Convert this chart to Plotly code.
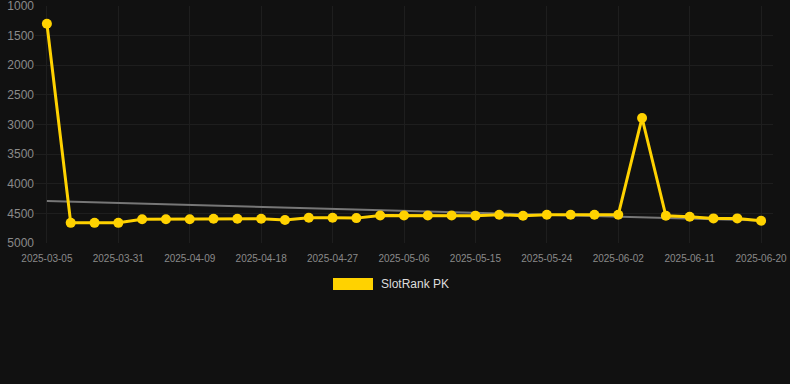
import plotly.graph_objects as go

dates = ["2025-03-05", "2025-03-25", "2025-03-28", "2025-03-31", "2025-04-03", "2025-04-06",
         "2025-04-09", "2025-04-12", "2025-04-15", "2025-04-18", "2025-04-21", "2025-04-24",
         "2025-04-27", "2025-04-30", "2025-05-03", "2025-05-06", "2025-05-09", "2025-05-12",
         "2025-05-15", "2025-05-18", "2025-05-21", "2025-05-24", "2025-05-27", "2025-05-30",
         "2025-06-02", "2025-06-05", "2025-06-08", "2025-06-11", "2025-06-14", "2025-06-17",
         "2025-06-20"]
ranks = [1300, 4660, 4660, 4660, 4600, 4600, 4600, 4590, 4590, 4590, 4613, 4575, 4575, 4580,
         4535, 4535, 4535, 4535, 4538, 4523, 4540, 4523, 4523, 4523, 4523, 2890, 4540, 4556,
         4585, 4585, 4625]
trend_ends = [4290, 4622]
tick_labels = dates[::3]
y_ticks = [1000, 1500, 2000, 2500, 3000, 3500, 4000, 4500, 5000]
series_name = "SlotRank PK"

YELLOW = "#FFD200"
BG = "#111111"
GRID = "#1e1e1e"
FONT = "Arial, Liberation Sans, sans-serif"

fig = go.Figure()
fig.add_trace(go.Scatter(
    x=[dates[0], dates[-1]], y=trend_ends, mode="lines",
    line=dict(color="#777777", width=2), showlegend=False, hoverinfo="skip"))
fig.add_trace(go.Scatter(
    x=dates, y=ranks, mode="lines+markers", name=series_name,
    line=dict(color=YELLOW, width=3), marker=dict(color=YELLOW, size=10),
    showlegend=False))

fig.update_layout(
    width=790, height=384,
    paper_bgcolor=BG, plot_bgcolor=BG,
    margin=dict(l=35, r=17, t=6, b=141),
    xaxis=dict(type="category", categoryorder="array", categoryarray=dates,
               range=[-0.5, len(dates) - 0.5], automargin=False,
               tickmode="array", tickvals=tick_labels, ticktext=tick_labels,
               tickfont=dict(family=FONT, size=10, color="#8a8a8a"),
               showgrid=True, gridcolor=GRID, gridwidth=1, zeroline=False,
               showline=False, ticks="", ticklabelstandoff=8, ticklabeloverflow="allow"),
    yaxis=dict(range=[5000, 1000], tickmode="array", tickvals=y_ticks, automargin=False,
               tickfont=dict(family=FONT, size=12, color="#8a8a8a"),
               showgrid=True, gridcolor=GRID, gridwidth=1, zeroline=False,
               showline=False, ticks="", ticklabelstandoff=0, ticklabeloverflow="allow"),
    shapes=[dict(type="rect", xref="paper", yref="paper",
                 x0=(333 - 35) / 738, x1=(373 - 35) / 738,
                 y0=(243 - 290) / 237, y1=(243 - 278) / 237,
                 fillcolor=YELLOW, line=dict(width=0))],
    annotations=[dict(text=series_name, xref="paper", yref="paper",
                      x=(379 - 35) / 738, y=(243 - 284) / 237,
                      xanchor="left", yanchor="middle", showarrow=False,
                      font=dict(family=FONT, size=12, color="#dddddd"))],
)

fig.write_html("out.html", config={"displayModeBar": False},
               post_script="document.body.style.margin='0';document.body.style.background='#111111';")
